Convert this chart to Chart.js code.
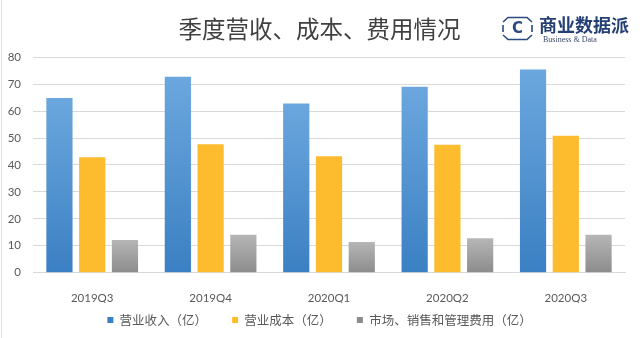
<!DOCTYPE html>
<html>
<head>
<meta charset="utf-8">
<script src="https://cdn.jsdelivr.net/npm/chart.js@4.4.1/dist/chart.umd.min.js"></script>
<style>
  html, body { margin: 0; padding: 0; background: #ffffff; }
  #wrap { position: relative; width: 640px; height: 338px; }
</style>
</head>
<body>
<div id="wrap"><canvas id="c" width="640" height="338"></canvas></div>
<script>
const categories = ['2019Q3', '2019Q4', '2020Q1', '2020Q2', '2020Q3'];
const revenue = [64.9, 72.7, 62.8, 69.0, 75.4];
const cost = [42.9, 47.7, 43.2, 47.5, 50.8];
const expense = [12.1, 14.1, 11.4, 12.8, 14.1];
const seriesNames = ['营业收入（亿）', '营业成本（亿）', '市场、销售和管理费用（亿）'];
const titleText = '季度营收、成本、费用情况';
const yTicks = [0, 10, 20, 30, 40, 50, 60, 70, 80];

const CJK = '"Noto Sans CJK SC", "Noto Sans", sans-serif';
const LAT = 'Lato, "Open Sans", sans-serif';

function barGradient(top, bottom) {
  return function (ctx) {
    const chart = ctx.chart;
    if (!chart.chartArea || ctx.type !== 'data') return top;
    const ys = chart.scales.y;
    const v = ctx.parsed ? ctx.parsed.y : ctx.raw;
    const y0 = ys.getPixelForValue(v);
    const y1 = ys.getPixelForValue(0);
    if (!isFinite(y0) || !isFinite(y1) || y0 === y1) return top;
    const g = chart.ctx.createLinearGradient(0, y0, 0, y1);
    g.addColorStop(0, top);
    g.addColorStop(1, bottom);
    return g;
  };
}

// widen the label clip boxes of the compact axes so their tick labels stay visible
const labelRoom = {
  id: 'labelRoom',
  afterLayout(chart) {
    const x = chart.scales.x, y = chart.scales.y;
    if (y) y.left = 0;
    if (x) x.bottom = x.top + 30;
  }
};

const decor = {
  id: 'decor',
  afterDraw(chart) {
    const c = chart.ctx;
    c.save();
    c.strokeStyle = '#e3e3e3';
    c.lineWidth = 1;
    c.beginPath();
    c.moveTo(1.5, 0);
    c.lineTo(1.5, 338);
    c.stroke();
    const navy = '#2b4a80';
    c.strokeStyle = navy;
    c.lineWidth = 1.6;
    c.beginPath();
    c.moveTo(503, 22); c.lineTo(508, 17.5); c.lineTo(527, 17.5); c.lineTo(532, 22);
    c.stroke();
    c.beginPath();
    c.moveTo(503, 35); c.lineTo(508, 39.5); c.lineTo(527, 39.5); c.lineTo(532, 35);
    c.stroke();
    c.beginPath();
    c.moveTo(503, 25); c.lineTo(503, 32);
    c.moveTo(532, 25); c.lineTo(532, 32);
    c.stroke();
    c.fillStyle = navy;
    c.font = 'bold 15px "DejaVu Sans", sans-serif';
    c.textAlign = 'center';
    c.textBaseline = 'middle';
    c.fillText('C', 517.5, 29);
    c.font = 'bold 18px "Noto Sans CJK SC", serif';
    c.textAlign = 'left';
    c.fillStyle = '#243f73';
    c.fillText('商业数据派', 539, 25.5);
    c.font = '8px "Liberation Serif", "DejaVu Serif", serif';
    c.fillStyle = '#3a4a6a';
    c.fillText('Business & Data', 543, 40);
    c.restore();
  }
};

new Chart(document.getElementById('c'), {
  type: 'bar',
  data: {
    labels: categories,
    datasets: [
      { label: seriesNames[0], data: revenue, backgroundColor: barGradient('#6ba7de', '#3b80c3') },
      { label: seriesNames[1], data: cost, backgroundColor: '#fdbb2e' },
      { label: seriesNames[2], data: expense, backgroundColor: barGradient('#b6b6b6', '#8c8c8c') }
    ]
  },
  options: {
    responsive: false,
    animation: false,
    devicePixelRatio: 1,
    categoryPercentage: 0.83,
    barPercentage: 0.8,
    layout: { padding: { left: 14, right: 15, top: 0, bottom: 9.3 } },
    plugins: {
      tooltip: { enabled: false },
      title: {
        display: true,
        text: titleText,
        color: '#404040',
        font: { family: CJK, size: 23.5, weight: 'normal', lineHeight: 1.2 },
        padding: { top: 15.4, bottom: 13.6 }
      },
      legend: {
        position: 'bottom',
        maxHeight: 40,
        labels: {
          boxWidth: 6,
          boxHeight: 6,
          padding: 25,
          color: '#595959',
          font: { family: CJK, size: 12.5 }
        }
      }
    },
    scales: {
      x: {
        grid: { display: false },
        border: { display: true, color: '#d9d9d9' },
        ticks: { color: '#595959', font: { family: LAT, size: 11.5 }, padding: 11 },
        afterFit(s) { s.height = 16; }
      },
      y: {
        min: 0,
        max: 80,
        afterBuildTicks(s) { s.ticks = yTicks.map(v => ({ value: v })); },
        grid: { color: '#d9d9d9', drawTicks: false },
        border: { display: false },
        ticks: { color: '#595959', font: { family: LAT, size: 11.5 }, padding: 12 },
        afterFit(s) { s.width = 19; }
      }
    }
  },
  plugins: [labelRoom, decor]
});
</script>
</body>
</html>
